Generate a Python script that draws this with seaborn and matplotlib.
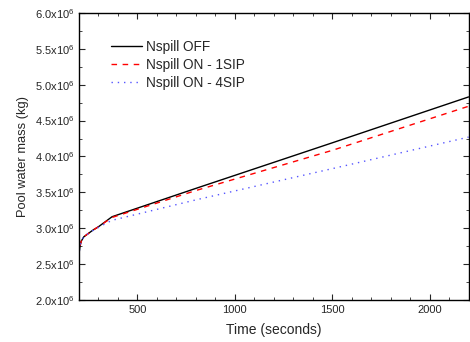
import matplotlib
matplotlib.use("Agg")
import matplotlib.pyplot as plt
from matplotlib.ticker import MultipleLocator, FuncFormatter
import seaborn as sns
import pandas as pd

time_off = [200, 202, 206, 212, 225, 250, 270, 300, 340, 370, 800, 1500, 2200]
mass_off = [2.60e6, 2.68e6, 2.76e6, 2.82e6, 2.88e6, 2.93e6, 2.97e6, 3.02e6, 3.10e6, 3.16e6, 3.555e6, 4.19e6, 4.83e6]

time_1sip = [200, 202, 206, 212, 225, 250, 270, 300, 340, 370, 800, 1500, 2200]
mass_1sip = [2.60e6, 2.68e6, 2.76e6, 2.82e6, 2.88e6, 2.93e6, 2.97e6, 3.02e6, 3.095e6, 3.15e6, 3.525e6, 4.085e6, 4.70e6]

time_4sip = [200, 202, 206, 212, 225, 250, 270, 300, 340, 370, 800, 1500, 2200]
mass_4sip = [2.60e6, 2.68e6, 2.76e6, 2.82e6, 2.88e6, 2.93e6, 2.965e6, 3.01e6, 3.07e6, 3.11e6, 3.395e6, 3.83e6, 4.27e6]

labels = ["Nspill OFF", "Nspill ON - 1SIP", "Nspill ON - 4SIP"]

sns.set_style("ticks")
plt.rcParams['font.family'] = ['Liberation Sans', 'DejaVu Sans']
plt.rcParams['mathtext.default'] = 'regular'

fig = plt.figure(figsize=(4.7, 3.42), dpi=100)
ax = fig.add_axes([0.168, 0.123, 0.829, 0.839])

series = [(time_off, mass_off, labels[0], 'black', '-'),
          (time_1sip, mass_1sip, labels[1], '#ff0000', (0, (4, 4))),
          (time_4sip, mass_4sip, labels[2], '#5555ff', (0, (1, 3.5)))]
for t, m, lab, c, ls in series:
    df = pd.DataFrame({"t": t, "m": m})
    sns.lineplot(data=df, x="t", y="m", ax=ax, color=c, linestyle=ls, linewidth=1.0, label=lab)

ax.set_xlim(200, 2200)
ax.set_ylim(2.0e6, 6.0e6)
ax.xaxis.set_major_locator(MultipleLocator(500))
ax.xaxis.set_minor_locator(MultipleLocator(100))
ax.yaxis.set_major_locator(MultipleLocator(0.5e6))
ax.yaxis.set_minor_locator(MultipleLocator(0.25e6))
ax.yaxis.set_major_formatter(FuncFormatter(lambda v, p: f"{v/1e6:.1f}x10$^6$"))
ax.tick_params(which='both', direction='in', top=True, right=True, labelsize=8)
ax.tick_params(which='major', length=4)
ax.tick_params(which='minor', length=2)
for s in ax.spines.values():
    s.set_linewidth(1.0)
    s.set_color('black')
ax.set_xlabel("Time (seconds)", fontsize=10, labelpad=6)
ax.set_ylabel("Pool water mass (kg)", fontsize=9.3)

leg = ax.legend(loc='upper left', bbox_to_anchor=(0.05, 0.95), frameon=False, fontsize=9.8,
                handlelength=2.3, labelspacing=0.3, handletextpad=0.3)

fig.savefig("out.png", dpi=100)
